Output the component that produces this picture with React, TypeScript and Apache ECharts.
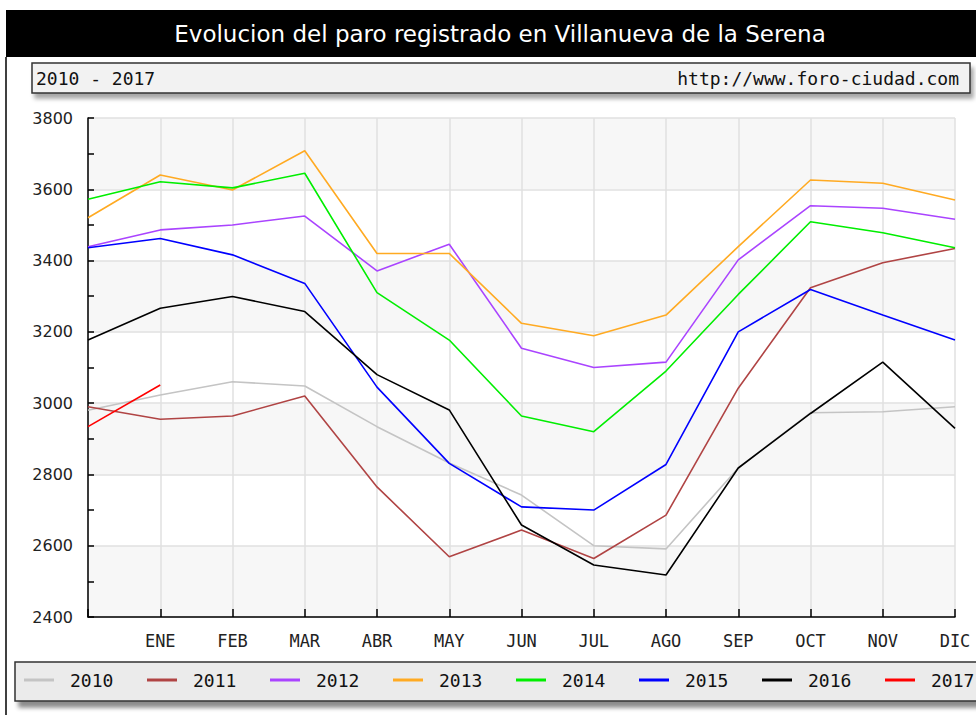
import React, { useEffect, useRef } from "react";
import * as echarts from "echarts";

const categories = ["", "ENE", "FEB", "MAR", "ABR", "MAY", "JUN", "JUL", "AGO", "SEP", "OCT", "NOV", "DIC"];
const years = ["2010", "2011", "2012", "2013", "2014", "2015", "2016", "2017"];
const colors = ["#c4c4c4", "#b04444", "#aa44ff", "#ffaa22", "#00ee00", "#0000ff", "#000000", "#ff0000"];

const d2010 = [2980, 3023, 3060, 3048, 2934, 2832, 2742, 2600, 2591, 2818, 2973, 2976, 2990];
const d2011 = [2990, 2955, 2964, 3020, 2765, 2569, 2644, 2564, 2686, 3042, 3324, 3394, 3434];
const d2012 = [3439, 3486, 3500, 3525, 3371, 3446, 3154, 3100, 3115, 3402, 3554, 3547, 3516];
const d2013 = [3520, 3640, 3598, 3708, 3420, 3420, 3224, 3189, 3247, 3439, 3626, 3617, 3570];
const d2014 = [3572, 3621, 3604, 3645, 3310, 3177, 2964, 2920, 3090, 3305, 3509, 3478, 3436];
const d2015 = [3436, 3462, 3416, 3336, 3045, 2831, 2709, 2700, 2828, 3200, 3319, 3247, 3177];
const d2016 = [3177, 3266, 3299, 3257, 3080, 2981, 2658, 2546, 2518, 2818, 2971, 3115, 2929];
const d2017 = [2934, 3051];

const seriesData = [d2010, d2011, d2012, d2013, d2014, d2015, d2016, d2017];

const titleText = "Evolucion del paro registrado en Villanueva de la Serena";
const subLeft = "2010 - 2017";
const subRight = "http://www.foro-ciudad.com";

const MONO = "DejaVu Sans Mono";

export default function App() {
  const ref = useRef<HTMLDivElement>(null);
  useEffect(() => {
    if (!ref.current) return;
    const chart = echarts.init(ref.current, null, { renderer: "svg" });
    const option: any = {
      animation: false,
      backgroundColor: "#ffffff",
      grid: { left: 88, right: 21, top: 118, bottom: 98, containLabel: false },
      xAxis: {
        type: "category",
        data: categories,
        boundaryGap: false,
        axisLine: { show: true, lineStyle: { color: "#000", width: 1.5 } },
        axisTick: { show: true, inside: true, length: 8, alignWithLabel: true, lineStyle: { color: "#000", width: 1.5 } },
        axisLabel: { color: "#222", fontFamily: MONO, fontSize: 17, margin: 15 },
        splitLine: { show: true, lineStyle: { color: "#e0e0e0", width: 1.5 } },
      },
      yAxis: {
        type: "value",
        min: 2400,
        max: 3800,
        interval: 200,
        axisLine: { show: true, lineStyle: { color: "#000", width: 1.5 } },
        axisTick: { show: true, inside: true, length: 6, lineStyle: { color: "#000", width: 1.5 } },
        minorTick: { show: true, splitNumber: 2, length: 6, lineStyle: { color: "#000", width: 1.5 } },
        axisLabel: { color: "#222", fontFamily: "DejaVu Sans", fontSize: 16, margin: 15, formatter: (v: number) => String(v) },
        splitLine: { show: true, lineStyle: { color: "#e0e0e0", width: 1.5 } },
        splitArea: { show: true, areaStyle: { color: ["#f7f7f7", "#ffffff"] } },
      },
      legend: years.map((y, i) => ({
        data: [y],
        left: 24 + 123 * i,
        top: 671,
        padding: 0,
        icon: "rect",
        itemWidth: 30,
        itemHeight: 3,
        z: 10,
        textStyle: { fontFamily: MONO, fontSize: 18, color: "#111", padding: [0, 0, 0, 11] },
      })),
      graphic: [
        { type: "rect", shape: { x: 6, y: 10, width: 980, height: 47 }, style: { fill: "#000" }, z: 0 },
        {
          type: "text",
          x: 500,
          y: 34,
          style: { text: titleText, fill: "#fff", font: "23px 'DejaVu Sans'", textAlign: "center", textVerticalAlign: "middle" },
          z: 1,
        },
        { type: "line", shape: { x1: 6, y1: 57, x2: 6, y2: 715 }, style: { stroke: "#000", lineWidth: 1.5 }, z: 0 },
        {
          type: "rect",
          shape: { x: 32, y: 63, width: 938, height: 30 },
          style: { fill: "#f2f2f2", stroke: "#333", lineWidth: 1.5, shadowBlur: 4, shadowOffsetX: 3, shadowOffsetY: 5, shadowColor: "rgba(0,0,0,0.35)" },
          z: 0,
        },
        {
          type: "text",
          x: 36,
          y: 78,
          style: { text: subLeft, fill: "#111", font: `18px '${MONO}'`, textAlign: "left", textVerticalAlign: "middle" },
          z: 1,
        },
        {
          type: "text",
          x: 959,
          y: 78,
          style: { text: subRight, fill: "#111", font: `18px '${MONO}'`, textAlign: "right", textVerticalAlign: "middle" },
          z: 1,
        },
        {
          type: "rect",
          shape: { x: 15, y: 662, width: 980, height: 39 },
          style: { fill: "#ebebeb", stroke: "#333", lineWidth: 1.5, shadowBlur: 4, shadowOffsetX: 4, shadowOffsetY: 6, shadowColor: "rgba(0,0,0,0.45)" },
          z: 0,
        },
      ],
      series: years.map((y, i) => ({
        name: y,
        type: "line",
        data: seriesData[i],
        showSymbol: false,
        symbol: "none",
        lineStyle: { color: colors[i], width: 1.6 },
        itemStyle: { color: colors[i] },
        z: 3 + i,
      })),
    };
    chart.setOption(option);
    return () => chart.dispose();
  }, []);
  return <div ref={ref} style={{ position: "absolute", left: 0, top: 0, width: 976, height: 715 }} />;
}
